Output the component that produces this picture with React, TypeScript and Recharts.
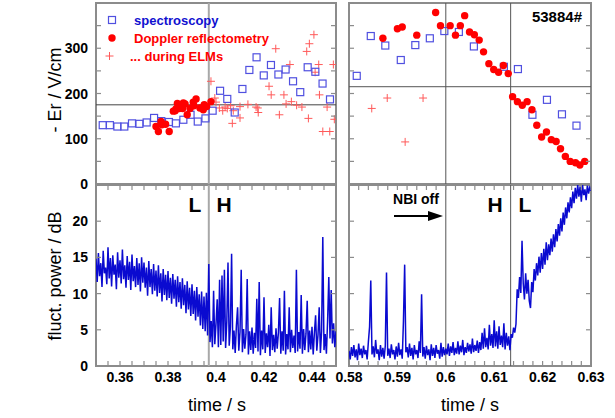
import React from 'react'
import {
  Line,
  LineChart,
  ReferenceArea,
  ReferenceLine,
  Scatter,
  ScatterChart,
  XAxis,
  YAxis,
} from 'recharts'

// -Er (V/cm) around the L-H transition, [time s, value]
const SPEC_LH: Array<[number, number]> = [
  [0.3528, 130], [0.3558, 130], [0.3589, 127], [0.3618, 127], [0.365, 134], [0.3681, 133],
  [0.3711, 136], [0.3742, 146], [0.3772, 139], [0.3804, 137], [0.3833, 134], [0.3864, 142],
  [0.3894, 153], [0.3924, 138], [0.3956, 145], [0.3986, 162], [0.4017, 206], [0.4047, 188],
  [0.4078, 158], [0.411, 210], [0.4139, 252], [0.4169, 280], [0.4199, 240], [0.4229, 263],
  [0.426, 242], [0.429, 253], [0.4321, 227], [0.4351, 203], [0.4382, 258], [0.4414, 248],
  [0.4444, 222], [0.4475, 187],
]
const DOPPLER_LH: Array<[number, number]> = [
  [0.375, 127], [0.376, 116], [0.3771, 138], [0.3774, 131], [0.379, 132], [0.3805, 116],
  [0.3822, 161], [0.383, 162], [0.3833, 166], [0.3839, 178], [0.3847, 167], [0.3861, 167],
  [0.3864, 179], [0.3871, 177], [0.388, 153], [0.3892, 167], [0.3905, 181], [0.3908, 173],
  [0.3917, 188], [0.3933, 168], [0.3947, 164], [0.3951, 175], [0.3961, 171], [0.3979, 182],
]
const ELM_LH: Array<[number, number]> = [
  [0.3979, 227], [0.3995, 190], [0.4, 181], [0.4014, 168], [0.4028, 162], [0.4038, 170],
  [0.4047, 167], [0.4061, 173], [0.4068, 134], [0.4072, 162], [0.41, 171], [0.41, 146],
  [0.4133, 176], [0.4167, 170], [0.4174, 168], [0.4176, 158], [0.4221, 216], [0.423, 197],
  [0.4249, 299], [0.4264, 153], [0.4283, 197], [0.4292, 177], [0.4308, 264], [0.4314, 182],
  [0.4336, 174], [0.4358, 170], [0.4378, 293], [0.4385, 145], [0.4389, 310], [0.4408, 330],
  [0.4413, 247], [0.4428, 264], [0.4431, 197], [0.4445, 116], [0.4463, 170], [0.4474, 116],
  [0.4489, 264], [0.4493, 143],
]

// -Er around the H-L back transition
const SPEC_HL: Array<[number, number]> = [
  [0.5816, 239], [0.5845, 327], [0.5875, 306], [0.5907, 274], [0.5937, 307], [0.5967, 322],
  [0.5997, 338], [0.6027, 336], [0.6058, 304], [0.612, 259], [0.6149, 254], [0.6179, 153],
  [0.6209, 186], [0.624, 154], [0.627, 129],
]
const DOPPLER_HL: Array<[number, number]> = [
  [0.587, 322], [0.59, 343], [0.591, 347], [0.594, 329], [0.5979, 379], [0.5989, 350],
  [0.6009, 350], [0.602, 329], [0.603, 350], [0.6039, 372], [0.6049, 336], [0.6059, 330],
  [0.6069, 318], [0.6078, 292], [0.6089, 266], [0.6099, 253], [0.6109, 247], [0.6119, 262],
  [0.6129, 244], [0.6138, 193], [0.6148, 182], [0.6158, 174], [0.6168, 182], [0.6178, 164],
  [0.6188, 130], [0.6198, 104], [0.6208, 115], [0.6218, 98], [0.6228, 94], [0.6237, 78],
  [0.6247, 61], [0.6257, 50], [0.6268, 47], [0.6277, 42], [0.6287, 50],
]
const ELM_HL: Array<[number, number]> = [
  [0.5847, 167], [0.5879, 190], [0.5916, 93], [0.5953, 190],
]

// fluctuation power (dB), evenly sampled
const POWER_LH_T0 = 0.35
const POWER_LH_DT = 0.0005
const POWER_LH = [
  14.8, 11.6, 15.6, 12.4, 14.2, 10.9, 15.9, 12.8, 13.6, 11.3,
  16.4, 12.1, 14.9, 11.0, 15.3, 12.6, 14.0, 10.6, 15.7, 12.2,
  14.6, 11.4, 16.1, 12.0, 13.9, 10.8, 15.2, 11.9, 14.4, 10.5,
  15.4, 11.7, 13.8, 10.9, 14.9, 11.2, 14.2, 10.3, 15.0, 11.5,
  14.3, 10.8, 13.6, 9.7, 14.5, 10.9, 13.4, 9.9, 14.1, 10.4,
  13.2, 9.6, 13.9, 10.1, 12.8, 8.9, 13.4, 9.8, 12.6, 9.1,
  13.1, 9.4, 12.2, 8.6, 12.7, 9.3, 11.9, 8.2, 12.4, 8.8,
  11.6, 7.9, 12.1, 8.4, 11.2, 7.3, 11.7, 7.8, 10.8, 6.9,
  11.3, 7.2, 10.4, 6.3, 10.9, 6.8, 9.9, 5.6, 10.3, 5.1,
  9.6, 4.8, 10.1, 4.2, 14.1, 3.3, 6.2, 2.6, 10.4, 3.0,
  5.8, 9.2, 2.6, 11.9, 2.9, 12.5, 3.4, 13.3, 2.5, 6.1,
  14.3, 2.8, 5.4, 15.5, 2.3, 4.9, 1.8, 5.6, 8.1, 2.1,
  4.7, 13.3, 1.9, 5.1, 2.4, 4.4, 12.0, 1.6, 4.8, 2.2,
  5.3, 1.7, 4.6, 2.5, 9.3, 2.0, 11.6, 1.5, 4.9, 2.3,
  9.5, 1.8, 4.5, 2.6, 5.7, 1.4, 8.1, 2.2, 4.3, 1.9,
  5.2, 2.4, 4.6, 9.4, 1.7, 4.8, 2.1, 10.4, 1.6, 4.4,
  2.3, 8.1, 1.9, 5.0, 2.5, 4.2, 1.8, 13.3, 2.0, 4.7,
  2.4, 9.8, 1.7, 5.1, 2.2, 4.5, 9.0, 1.9, 4.9, 2.3,
  5.4, 1.6, 4.6, 7.0, 2.1, 4.3, 8.1, 1.8, 4.8, 17.8,
  2.2, 4.4, 1.7, 6.2, 12.3, 3.8, 10.5, 3.1, 5.9, 2.6,
  4.8,
]
const POWER_HL_T0 = 0.58
const POWER_HL_DT = 0.00025
const POWER_HL = [
  2.1, 0.9, 2.6, 1.4, 2.9, 1.2, 2.3, 0.8, 3.1, 1.5,
  2.4, 1.1, 2.8, 1.6, 2.2, 0.9, 3.3, 5.4, 11.8, 1.6,
  2.7, 1.2, 3.6, 1.7, 2.3, 0.8, 2.9, 1.3, 2.5, 1.0,
  2.8, 12.9, 1.4, 2.4, 1.1, 3.0, 1.6, 2.2, 0.9, 2.7,
  1.3, 3.2, 1.5, 2.3, 1.0, 6.2, 14.0, 1.9, 2.6, 1.2,
  3.1, 1.4, 2.5, 0.9, 2.9, 1.6, 2.2, 1.1, 3.4, 1.8,
  9.9, 1.3, 2.6, 1.0, 2.8, 1.5, 2.3, 0.8, 3.0, 1.4,
  2.5, 1.1, 2.9, 1.7, 2.2, 1.0, 3.2, 1.3, 2.6, 1.5,
  2.4, 1.6, 3.1, 1.4, 2.7, 1.8, 3.3, 1.5, 2.5, 1.7,
  3.4, 1.6, 2.8, 1.9, 3.6, 1.5, 2.6, 1.8, 3.2, 2.0,
  3.0, 1.7, 3.8, 1.9, 2.9, 2.1, 3.5, 1.8, 3.3, 2.2,
  4.6, 2.4, 5.2, 2.6, 3.9, 2.3, 5.7, 2.8, 4.4, 2.5,
  6.3, 2.7, 4.8, 2.4, 5.5, 2.9, 4.2, 2.6, 5.9, 2.3,
  4.6, 2.8, 4.1, 2.2, 4.4, 3.9, 5.3, 4.6, 5.8, 10.6,
  9.4, 12.3, 10.1, 17.3, 11.4, 9.2, 12.8, 10.0, 11.9, 9.0,
  8.0, 11.6, 10.2, 13.4, 11.8, 14.2, 12.5, 15.1, 12.9, 15.6,
  13.4, 16.2, 14.0, 17.1, 14.6, 16.8, 15.3, 17.6, 15.8, 18.2,
  16.4, 18.9, 17.2, 19.6, 18.0, 20.4, 18.6, 21.2, 19.5, 21.9,
  20.4, 22.6, 21.2, 23.3, 21.8, 24.1, 22.5, 24.6, 23.1, 25.0,
  23.4, 24.8, 22.7, 25.0, 23.6, 24.4, 22.9, 25.0, 23.8, 24.7,
  24.2,
]

// transition markers
const LH_TIME = 0.397
const NBI_OFF_TIME = 0.6
const HL_TIME = 0.6134
const ER_LEVEL_LH = 175
const ER_LEVEL_HL = 215

// axes
const X_TICKS_LH = [
  0.35, 0.355, 0.36, 0.365, 0.37, 0.375, 0.38, 0.385, 0.39, 0.395, 0.4,
  0.405, 0.41, 0.415, 0.42, 0.425, 0.43, 0.435, 0.44, 0.445, 0.45,
]
const X_LABELS_LH = [0.36, 0.38, 0.4, 0.42, 0.44]
const X_TICKS_HL = [
  0.58, 0.582, 0.584, 0.586, 0.588, 0.59, 0.592, 0.594, 0.596, 0.598, 0.6, 0.602, 0.604,
  0.606, 0.608, 0.61, 0.612, 0.614, 0.616, 0.618, 0.62, 0.622, 0.624, 0.626, 0.628, 0.63,
]
const X_LABELS_HL = [0.58, 0.59, 0.6, 0.61, 0.62, 0.63]
const ER_TICKS = [0, 50, 100, 150, 200, 250, 300, 350, 400]
const ER_LABELS = [0, 100, 200, 300]
const POWER_TICKS = [0, 5, 10, 15, 20, 25]
const POWER_LABELS = [0, 5, 10, 15, 20]

const FONT = '"Liberation Sans", Arial, sans-serif'
const FRAME = '#8c8c8c'
const SPEC_COLOR = '#5050e0'
const RED = '#ff0000'
const ELM_COLOR = '#ff5a5a'
const SIGNAL = '#0a0ad0'
const TICK = 5
const PLOT_W = 240
const PLOT_W_R = 242
const PLOT_H = 181

const toPts = (rows: Array<[number, number]>) => rows.map(([t, v]) => ({ t, v }))
const sampled = (vals: number[], t0: number, dt: number) =>
  vals.map((v, i) => ({ t: t0 + i * dt, v }))

const fmt = (v: number) => String(Number(v.toFixed(3)))
const has = (labels: number[], v: number) => labels.some((l) => Math.abs(l - v) < 1e-9)

function xTick(plotH: number, labels: number[]) {
  return (props: any) => {
    const { x, y, payload } = props
    return (
      <g>
        <line x1={x} y1={y} x2={x} y2={y - TICK} stroke={FRAME} strokeWidth={1.2} />
        <line x1={x} y1={y - plotH} x2={x} y2={y - plotH + TICK} stroke={FRAME} strokeWidth={1.2} />
        {has(labels, payload.value) && (
          <text x={x} y={y + 16} textAnchor="middle" fontSize={14} fontWeight="bold" fontFamily={FONT} fill="#000">
            {fmt(payload.value)}
          </text>
        )}
      </g>
    )
  }
}

function yTick(plotW: number, labels: number[]) {
  return (props: any) => {
    const { x, y, payload } = props
    return (
      <g>
        <line x1={x} y1={y} x2={x + TICK} y2={y} stroke={FRAME} strokeWidth={1.2} />
        <line x1={x + plotW} y1={y} x2={x + plotW - TICK} y2={y} stroke={FRAME} strokeWidth={1.2} />
        {has(labels, payload.value) && (
          <text x={x - 8} y={y + 5} textAnchor="end" fontSize={14} fontWeight="bold" fontFamily={FONT} fill="#000">
            {fmt(payload.value)}
          </text>
        )}
      </g>
    )
  }
}

const OpenSquare = (p: any) => (
  <rect x={p.cx - 3.5} y={p.cy - 3.5} width={7} height={7} fill="none" stroke={SPEC_COLOR} strokeWidth={1.2} />
)
const RedDot = (p: any) => <circle cx={p.cx} cy={p.cy} r={3.7} fill={RED} />
const Plus = (p: any) => (
  <path d={`M${p.cx - 4},${p.cy}h8M${p.cx},${p.cy - 4}v8`} stroke={ELM_COLOR} strokeWidth={1} fill="none" />
)

type ErProps = {
  spec: Array<[number, number]>
  doppler: Array<[number, number]>
  elm: Array<[number, number]>
  domain: [number, number]
  ticks: number[]
  plotW: number
  showYLabels: boolean
  children?: React.ReactNode
}

function ErPanel({ spec, doppler, elm, domain, ticks, plotW, showYLabels, children }: ErProps) {
  const yWidth = showYLabels ? 96 : 19
  const width = showYLabels ? 340 : 285
  return (
    <ScatterChart width={width} height={194} margin={{ top: 3, right: width - yWidth - plotW, bottom: 10, left: 0 }}>
      <XAxis
        type="number" dataKey="t" domain={domain} allowDataOverflow ticks={ticks} interval={0}
        height={0} tickSize={0} tickMargin={0} axisLine={false} tickLine={false}
        tick={xTick(PLOT_H, [])}
      />
      <YAxis
        type="number" dataKey="v" domain={[0, 400]} allowDataOverflow ticks={ER_TICKS} interval={0}
        width={yWidth} tickSize={0} tickMargin={0} axisLine={false} tickLine={false}
        tick={yTick(plotW, showYLabels ? ER_LABELS : [])}
      />
      {children}
      <Scatter data={toPts(elm)} shape={Plus} isAnimationActive={false} />
      <Scatter data={toPts(spec)} shape={OpenSquare} isAnimationActive={false} />
      <Scatter data={toPts(doppler)} shape={RedDot} isAnimationActive={false} />
      <ReferenceArea x1={domain[0]} x2={domain[1]} y1={0} y2={400} fill="none" stroke={FRAME} strokeWidth={2} />
    </ScatterChart>
  )
}

type PowerProps = {
  data: Array<{ t: number; v: number }>
  domain: [number, number]
  ticks: number[]
  labels: number[]
  plotW: number
  showYLabels: boolean
  children?: React.ReactNode
}

function PowerPanel({ data, domain, ticks, labels, plotW, showYLabels, children }: PowerProps) {
  const yWidth = showYLabels ? 96 : 19
  const width = showYLabels ? 340 : 285
  return (
    <LineChart width={width} height={237} data={data} margin={{ top: 4, right: width - yWidth - plotW, bottom: 0, left: 0 }}>
      <XAxis
        type="number" dataKey="t" domain={domain} allowDataOverflow ticks={ticks} interval={0}
        height={52} tickSize={0} tickMargin={0} axisLine={false} tickLine={false}
        tick={xTick(PLOT_H, labels)}
      />
      <YAxis
        type="number" domain={[0, 25]} allowDataOverflow ticks={POWER_TICKS} interval={0}
        width={yWidth} tickSize={0} tickMargin={0} axisLine={false} tickLine={false}
        tick={yTick(plotW, showYLabels ? POWER_LABELS : [])}
      />
      {children}
      <Line dataKey="v" stroke={SIGNAL} strokeWidth={1.5} dot={false} isAnimationActive={false} />
      <ReferenceArea x1={domain[0]} x2={domain[1]} y1={0} y2={25} fill="none" stroke={FRAME} strokeWidth={2} />
    </LineChart>
  )
}

export default function App() {
  const text = { fontFamily: FONT }
  return (
    <div style={{ position: 'absolute', left: 0, top: 0, width: 615, height: 418, background: '#fff' }}>
      <div style={{ position: 'absolute', left: 0, top: 181 }}>
        <PowerPanel data={sampled(POWER_LH, POWER_LH_T0, POWER_LH_DT)} domain={[0.35, 0.45]} ticks={X_TICKS_LH} labels={X_LABELS_LH} plotW={PLOT_W} showYLabels>
          <ReferenceLine x={LH_TIME} stroke="#a8a8a8" strokeWidth={2} />
        </PowerPanel>
      </div>
      <div style={{ position: 'absolute', left: 330, top: 181 }}>
        <PowerPanel data={sampled(POWER_HL, POWER_HL_T0, POWER_HL_DT)} domain={[0.58, 0.63]} ticks={X_TICKS_HL} labels={X_LABELS_HL} plotW={PLOT_W_R} showYLabels={false}>
          <ReferenceLine x={NBI_OFF_TIME} stroke="#555" strokeWidth={1} />
          <ReferenceLine x={HL_TIME} stroke="#555" strokeWidth={1} />
        </PowerPanel>
      </div>
      <div style={{ position: 'absolute', left: 0, top: 0 }}>
        <ErPanel spec={SPEC_LH} doppler={DOPPLER_LH} elm={ELM_LH} domain={[0.35, 0.45]} ticks={X_TICKS_LH} plotW={PLOT_W} showYLabels>
          <ReferenceLine x={LH_TIME} stroke="#a8a8a8" strokeWidth={2} />
          <ReferenceLine y={ER_LEVEL_LH} stroke="#444" strokeWidth={1} />
        </ErPanel>
      </div>
      <div style={{ position: 'absolute', left: 330, top: 0 }}>
        <ErPanel spec={SPEC_HL} doppler={DOPPLER_HL} elm={ELM_HL} domain={[0.58, 0.63]} ticks={X_TICKS_HL} plotW={PLOT_W_R} showYLabels={false}>
          <ReferenceLine x={NBI_OFF_TIME} stroke="#555" strokeWidth={1} />
          <ReferenceLine x={HL_TIME} stroke="#555" strokeWidth={1} />
          <ReferenceLine y={ER_LEVEL_HL} stroke="#555" strokeWidth={1} />
        </ErPanel>
      </div>
      <svg width={615} height={418} style={{ position: 'absolute', left: 0, top: 0, pointerEvents: 'none' }}>
        <text transform="translate(61,90) rotate(-90)" textAnchor="middle" fontSize={18} {...text}>- Er  / V/cm</text>
        <text transform="translate(61,276) rotate(-90)" textAnchor="middle" fontSize={18} {...text}>fluct. power / dB</text>
        <text x={217} y={411} textAnchor="middle" fontSize={18} {...text}>time / s</text>
        <text x={470} y={411} textAnchor="middle" fontSize={18} {...text}>time / s</text>

        <rect x={108.5} y={16.5} width={7} height={7} fill="none" stroke={SPEC_COLOR} strokeWidth={1.2} />
        <text x={134} y={25} fontSize={13} fontWeight="bold" fill="#1010d0" {...text}>spectroscopy</text>
        <circle cx={112} cy={38} r={3.7} fill={RED} />
        <text x={134} y={43} fontSize={13} fontWeight="bold" fill={RED} {...text}>Doppler reflectometry</text>
        <path d="M105.5,56h8M109.5,52v8" stroke={ELM_COLOR} strokeWidth={1} />
        <text x={130} y={61} fontSize={13} fontWeight="bold" fill={RED} {...text}>... during ELMs</text>

        <text x={582} y={22} textAnchor="end" fontSize={15} fontWeight="bold" {...text}>53884#</text>

        <text x={195} y={212} textAnchor="middle" fontSize={21} fontWeight="bold" {...text}>L</text>
        <text x={224} y={212} textAnchor="middle" fontSize={21} fontWeight="bold" {...text}>H</text>
        <text x={416} y={204} textAnchor="middle" fontSize={14} fontWeight="bold" {...text}>NBI off</text>
        <line x1={394} y1={216} x2={430} y2={216} stroke="#000" strokeWidth={2} />
        <polygon points="428,211 443,216 428,221" fill="#000" />
        <text x={495} y={212} textAnchor="middle" fontSize={21} fontWeight="bold" {...text}>H</text>
        <text x={525} y={212} textAnchor="middle" fontSize={21} fontWeight="bold" {...text}>L</text>
      </svg>
    </div>
  )
}
